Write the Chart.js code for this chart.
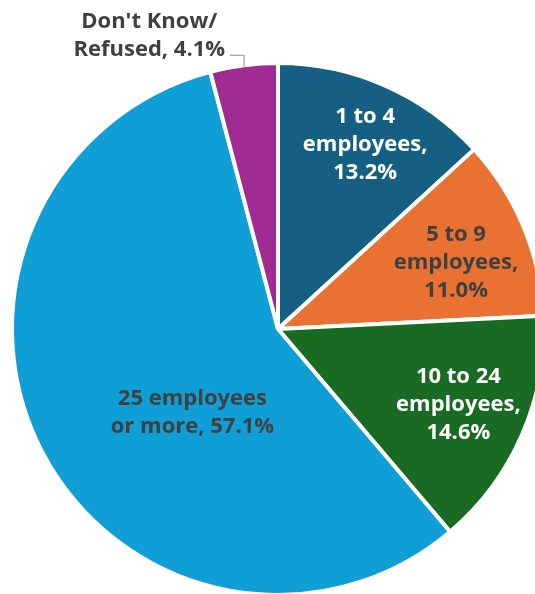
<!DOCTYPE html>
<html>
<head>
<meta charset="utf-8">
<script src="https://cdn.jsdelivr.net/npm/chart.js@4"></script>
<style>
  html, body { margin: 0; padding: 0; background: #fff; overflow: hidden; width: 535px; height: 594px; }
  #wrap { position: absolute; left: 0; top: 0; width: 556px; height: 658px; }
</style>
</head>
<body>
<div id="wrap"><canvas id="sizeChart" width="556" height="658"></canvas></div>
<script>
const categories = ['1 to 4 employees', '5 to 9 employees', '10 to 24 employees', '25 employees or more', "Don't Know/Refused"];
const shares = [13.2, 11.0, 14.6, 57.1, 4.1];
const sliceColors = ['#156082', '#E97132', '#196B24', '#0F9ED5', '#A02B93'];

// label text lines per slice, the value is appended from shares
const labelLines = [
    ['1 to 4', 'employees,'],
    ['5 to 9', 'employees,'],
    ['10 to 24', 'employees,'],
    ['25 employees', 'or more,'],
    ["Don't Know/", 'Refused,']
];
const labelColors = ['#ffffff', '#404040', '#ffffff', '#404040', '#404040'];
// where each label sits: fraction of radius and angle shift (deg) from slice middle
const labelPlace = [
    { frac: 0.765, shift: 1.6 },
    { frac: 0.714, shift: 2.3 },
    { frac: 0.735, shift: -0.7 },
    { frac: 0.45, shift: -16.8 },
    { frac: 1.205, shift: -16.3, outside: true }
];

const sliceLabels = {
    id: 'sliceLabels',
    afterDatasetsDraw(chart) {
        const ctx = chart.ctx;
        const arcs = chart.getDatasetMeta(0).data;
        ctx.save();
        ctx.font = 'bold 22px "Open Sans"';
        ctx.textAlign = 'center';
        ctx.textBaseline = 'middle';
        arcs.forEach((arc, i) => {
            const { x, y, startAngle, endAngle, outerRadius } = arc.getProps(['x', 'y', 'startAngle', 'endAngle', 'outerRadius'], true);
            const mid = (startAngle + endAngle) / 2;
            const a = mid + labelPlace[i].shift * Math.PI / 180;
            const d = outerRadius * labelPlace[i].frac;
            const cx = x + Math.cos(a) * d;
            const cy = y + Math.sin(a) * d;
            let lines = labelLines[i].slice();
            const pct = shares[i].toFixed(1) + '%';
            if (i === 3 || i === 4) {
                lines[1] = lines[1] + ' ' + pct;
            } else {
                lines.push(pct);
            }
            const lh = 28;
            const top = cy - (lines.length - 1) * lh / 2;
            ctx.fillStyle = labelColors[i];
            lines.forEach((t, k) => ctx.fillText(t, cx, top + k * lh));

            if (labelPlace[i].outside) {
                // elbow leader from the label to the slice edge
                const w = ctx.measureText(lines[1]).width;
                const ex = x + Math.cos(mid) * (outerRadius - 2);
                const ey = y + Math.sin(mid) * (outerRadius - 2);
                const ly = top + lh + 6;
                ctx.strokeStyle = '#A6A6A6';
                ctx.lineWidth = 1.3;
                ctx.beginPath();
                ctx.moveTo(cx + w / 2 + 5, ly);
                ctx.lineTo(ex, ly);
                ctx.lineTo(ex, ey);
                ctx.stroke();
            }
        });
        ctx.restore();
    }
};

new Chart(document.getElementById('sizeChart').getContext('2d'), {
    type: 'pie',
    data: {
        labels: categories,
        datasets: [{
            data: shares,
            backgroundColor: sliceColors,
            borderColor: '#ffffff',
            borderWidth: 4,
            radius: 266
        }]
    },
    options: {
        responsive: false,
        animation: false,
        events: [],
        layout: { padding: { left: 12, right: 12, top: 63, bottom: 63 } },
        plugins: {
            legend: { display: false },
            tooltip: { enabled: false }
        }
    },
    plugins: [sliceLabels]
});
</script>
</body>
</html>
